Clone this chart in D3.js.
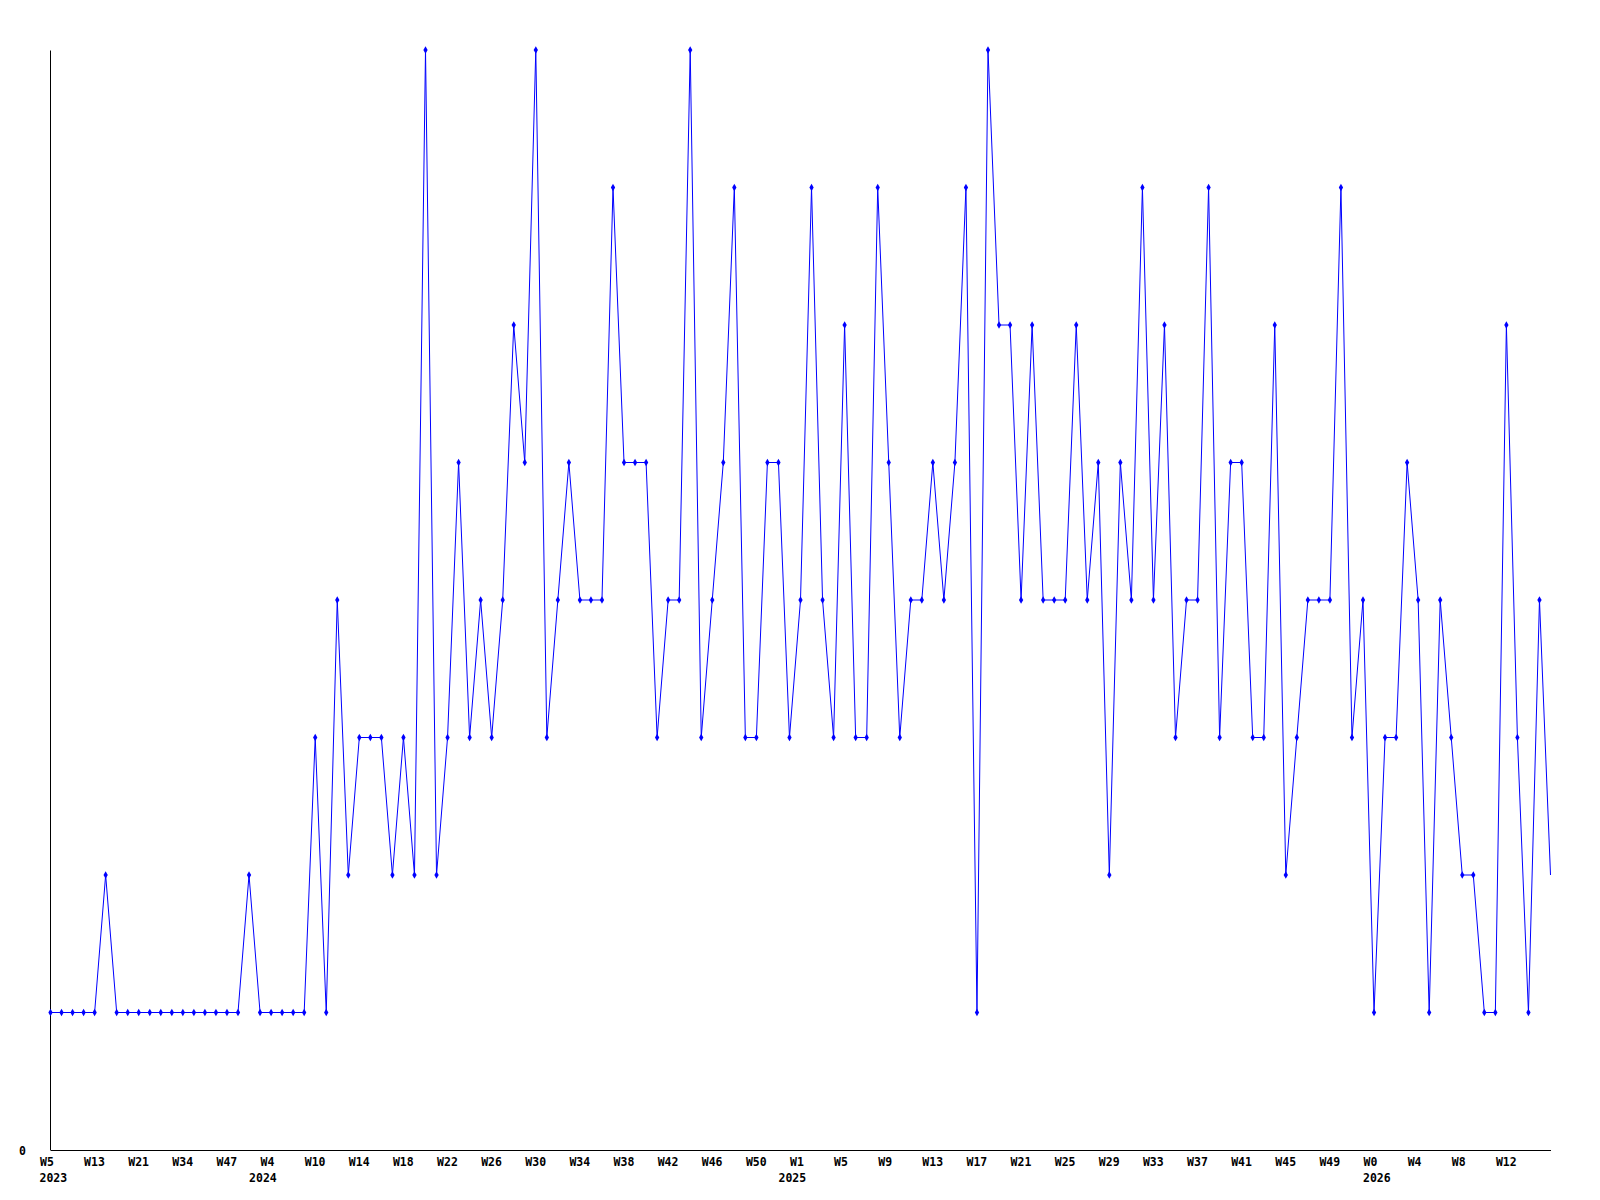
<!DOCTYPE html>
<html>
<head>
<meta charset="utf-8">
<script src="https://cdn.jsdelivr.net/npm/d3@7"></script>
<style>
  html, body { margin: 0; padding: 0; background: #fff; }
  svg { display: block; }
  .lbl { font-family: "DejaVu Sans Mono", monospace; font-weight: bold; font-size: 11.5px; fill: #000; }
</style>
</head>
<body>
<div id="chart"></div>
<script>
// weekly counts, one per sample
const values = [
  1, 1, 1, 1, 1, 2, 1, 1, 1, 1, 1, 1, 1, 1, 1, 1, 1, 1, 2, 1, 1, 1, 1, 1,
  3, 1, 4, 2, 3, 3, 3, 2, 3, 2, 8,
  2, 3, 5, 3, 4, 3, 4, 6, 5, 8, 3, 4, 5, 4, 4, 4,
  7, 5, 5, 5, 3, 4, 4, 8, 3, 4, 5, 7, 3, 3, 5, 5, 3, 4,
  7, 4, 3, 6, 3, 3, 7, 5, 3, 4, 4, 5, 4, 5, 7, 1, 8,
  6, 6, 4, 6, 4, 4, 4, 6, 4, 5, 2, 5, 4, 7, 4, 6, 3, 4,
  4, 7, 3, 5, 5, 3, 3, 6, 2, 3, 4, 4, 4, 7, 3, 4, 1, 3, 3, 5, 4, 1, 4, 3, 2, 2, 1, 1, 6, 3, 1, 4, 2
];

// x tick every 4th sample
const weekTicks = [
  "W5", "W13", "W21", "W34", "W47", "W4", "W10", "W14", "W18", "W22", "W26", "W30",
  "W34", "W38", "W42", "W46", "W50", "W1", "W5", "W9", "W13", "W17", "W21", "W25",
  "W29", "W33", "W37", "W41", "W45", "W49", "W0", "W4", "W8", "W12"
];
const TICK_STEP = 4;

// year labels sit under the first sample of each year
const yearLabels = ["2023", "2024", "2025", "2026"];
const yearStart = [0, 19, 67, 120];

const yMax = 8;

const W = 1600, H = 1200;
const M = { left: 50, right: 49.5, top: 50, bottom: 50 };

const svg = d3.select("#chart").append("svg")
  .attr("width", W).attr("height", H);

const x = d3.scaleLinear().domain([0, values.length - 1])
  .range([M.left + 0.5, W - M.right]);
const y = d3.scaleLinear().domain([0, yMax])
  .range([H - M.bottom, M.top]);

// x axis: plain line, labels left-shifted like the original
const xAxis = svg.append("g")
  .attr("transform", `translate(0,${H - M.bottom})`)
  .call(d3.axisBottom(x)
    .tickValues(weekTicks.map((_, i) => i * TICK_STEP))
    .tickFormat((_, i) => weekTicks[i])
    .tickSize(0)
    .tickSizeOuter(0));
xAxis.select(".domain").attr("stroke", "#000");
xAxis.selectAll("text")
  .attr("class", "lbl")
  .attr("text-anchor", "start")
  .attr("x", -11).attr("y", 16).attr("dy", 0)
  .attr("font-size", null).attr("font-family", null);

// year row
svg.append("g").selectAll("text").data(yearLabels).enter().append("text")
  .attr("class", "lbl")
  .attr("x", (_, i) => x(yearStart[i]) - 11)
  .attr("y", H - M.bottom + 32)
  .text(d => d);

// y axis: only the zero label
const yAxis = svg.append("g")
  .attr("transform", `translate(${M.left},0)`)
  .call(d3.axisLeft(y).tickValues([0]).tickFormat(d3.format("d"))
    .tickSize(0).tickSizeOuter(0).tickPadding(24));
yAxis.select(".domain").attr("stroke", "#000");
yAxis.selectAll("text")
  .attr("class", "lbl")
  .attr("dy", "0.4em")
  .attr("font-size", null).attr("font-family", null);

// series
const line = d3.line().x((_, i) => x(i)).y(d => y(d));
svg.append("path")
  .attr("d", line(values))
  .attr("fill", "none")
  .attr("stroke", "#0000ff")
  .attr("stroke-width", 1);

// markers (the last sample is drawn without one)
const diamond = d3.symbol().type(d3.symbolDiamond).size(16);
svg.append("g").selectAll("path").data(values.slice(0, -1)).enter().append("path")
  .attr("transform", (d, i) => `translate(${x(i)},${y(d)})`)
  .attr("d", diamond)
  .attr("fill", "#0000ff");
</script>
</body>
</html>
